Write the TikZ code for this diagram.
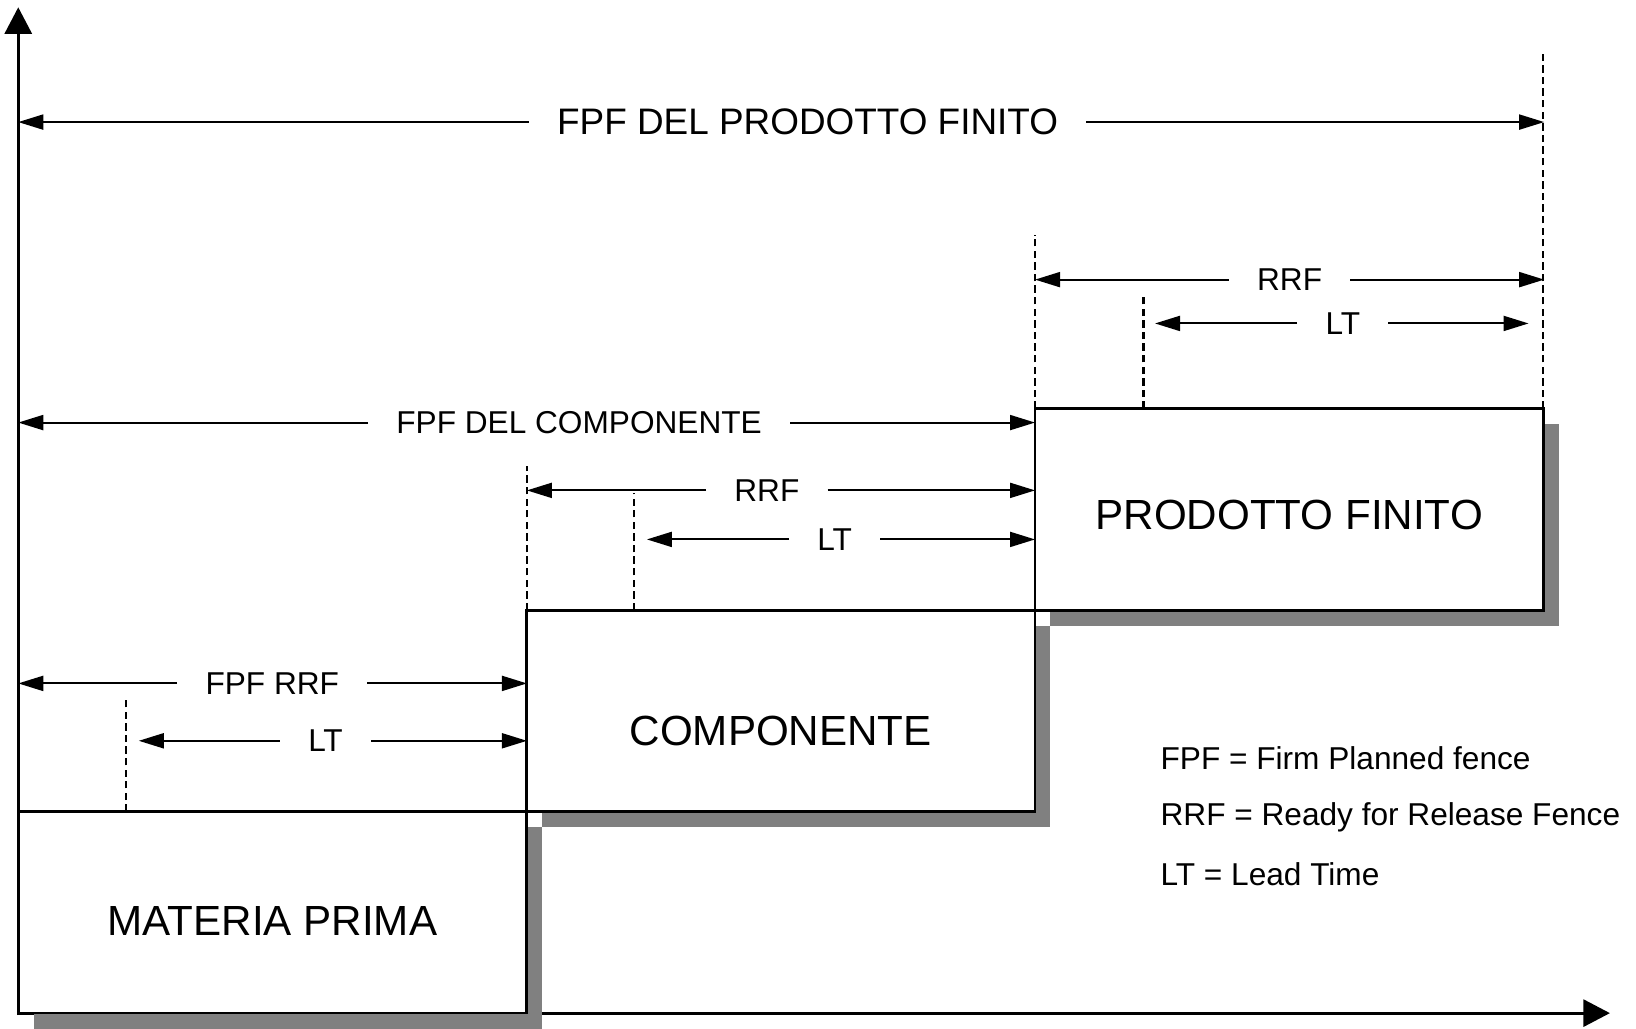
\documentclass[tikz,border=0pt]{standalone}
\usepackage{fontspec}
\setmainfont{Liberation Sans}
\usepackage{tikz}
\usetikzlibrary{arrows.meta}
\usetikzlibrary{positioning}
\usetikzlibrary{shadows}
\tikzstyle{box} = [rectangle, draw, fill=white, line width=1.5pt,
    outer sep=0pt, inner sep=0pt, text depth=0pt,
    minimum width=10.17cm, minimum height=4.03cm,
    font=\fontsize{24}{28}\selectfont,
    drop shadow={shadow xshift=0.31cm, shadow yshift=-0.31cm,
                 fill=black!50, opacity=1}]
\tikzstyle{axis} = [draw, line width=1.6pt, -{Triangle[length=0.53cm, width=0.54cm]}]
\tikzstyle{line} = [draw, line width=1.1pt, -{Triangle[length=0.5cm, width=0.3cm]}]
\tikzstyle{fence} = [draw, line width=1.2pt, dash pattern=on 4.2pt off 2.4pt]
\tikzstyle{lbl} = [inner xsep=0.56cm, inner ysep=0pt, font=\fontsize{18}{22}\selectfont]
\tikzstyle{biglbl} = [lbl, font=\fontsize{21}{25}\selectfont]
\tikzstyle{legend} = [anchor=west, inner sep=0pt, font=\fontsize{18}{22}\selectfont]

\begin{document}
\begin{tikzpicture}[x=0.020867cm, y=-0.020867cm]
  \useasboundingbox (0,0) rectangle (1568,985.3);

  % Axes
  \coordinate (o) at (17.5,973);
  \coordinate (ytip) at (17.5,7);
  \coordinate (xtip) at (1543,971);
  \draw [axis] (o) -- (ytip);
  \draw [axis] (17.5,971) -- (xtip);

  % Place boxes
  \node [box, text height=26pt, anchor=south west] (mat) at (17.5,971) {MATERIA PRIMA};
  \node [box, text height=39pt, above right=0cm and 0cm of mat] (comp) {COMPONENTE};
  \node [box, text height=22.5pt, above right=0cm and 0cm of comp] (prod) {PRODOTTO FINITO};

  % Fences
  \draw [fence] (prod.north east) -- ++(0,-342);
  \draw [fence] (prod.north west) -- ++(0,-167);
  \draw [fence] (prod.north west) ++(104,0) -- ++(0,-109);
  \draw [fence] (comp.north west) -- ++(0,-138);
  \draw [fence] (comp.north west) ++(103,0) -- ++(0,-112);
  \draw [fence] (mat.north west) ++(103.5,0) -- ++(0,-111);

  % FPF of the finished product
  \node [biglbl] (fpfprod) at (774,117) {FPF DEL PRODOTTO FINITO};
  \coordinate (fpfprod-l) at (17.5,117);
  \coordinate (fpfprod-r) at (1480,117);
  \path [line] (fpfprod) -- (fpfprod-l);
  \path [line] (fpfprod) -- (fpfprod-r);

  \node [lbl] (rrfprod) at (1236,268) {RRF};
  \coordinate (rrfprod-l) at (992,268);
  \coordinate (rrfprod-r) at (1480,268);
  \path [line] (rrfprod) -- (rrfprod-l);
  \path [line] (rrfprod) -- (rrfprod-r);

  \node [lbl] (ltprod) at (1287,310) {LT};
  \coordinate (ltprod-l) at (1107,310);
  \coordinate (ltprod-r) at (1465,310);
  \path [line] (ltprod) -- (ltprod-l);
  \path [line] (ltprod) -- (ltprod-r);

  % FPF of the component
  \node [lbl] (fpfcomp) at (555,405) {FPF DEL COMPONENTE};
  \coordinate (fpfcomp-l) at (17.5,405);
  \coordinate (fpfcomp-r) at (992,405);
  \path [line] (fpfcomp) -- (fpfcomp-l);
  \path [line] (fpfcomp) -- (fpfcomp-r);

  \node [lbl] (rrfcomp) at (735,470) {RRF};
  \coordinate (rrfcomp-l) at (505,470);
  \coordinate (rrfcomp-r) at (992,470);
  \path [line] (rrfcomp) -- (rrfcomp-l);
  \path [line] (rrfcomp) -- (rrfcomp-r);

  \node [lbl] (ltcomp) at (800,517) {LT};
  \coordinate (ltcomp-l) at (620,517);
  \coordinate (ltcomp-r) at (992,517);
  \path [line] (ltcomp) -- (ltcomp-l);
  \path [line] (ltcomp) -- (ltcomp-r);

  % Raw material
  \node [lbl] (fpfmat) at (261,655) {FPF RRF};
  \coordinate (fpfmat-l) at (17.5,655);
  \coordinate (fpfmat-r) at (505,655);
  \path [line] (fpfmat) -- (fpfmat-l);
  \path [line] (fpfmat) -- (fpfmat-r);

  \node [lbl] (ltmat) at (312,710) {LT};
  \coordinate (ltmat-l) at (133,710);
  \coordinate (ltmat-r) at (505,710);
  \path [line] (ltmat) -- (ltmat-l);
  \path [line] (ltmat) -- (ltmat-r);

  % Legend
  \node [legend] (leg1) at (1112,727) {FPF = Firm Planned fence};
  \node [legend] (leg2) at (1112,783) {RRF = Ready for Release Fence};
  \node [legend] (leg3) at (1112,838) {LT = Lead Time};
\end{tikzpicture}
\end{document}
